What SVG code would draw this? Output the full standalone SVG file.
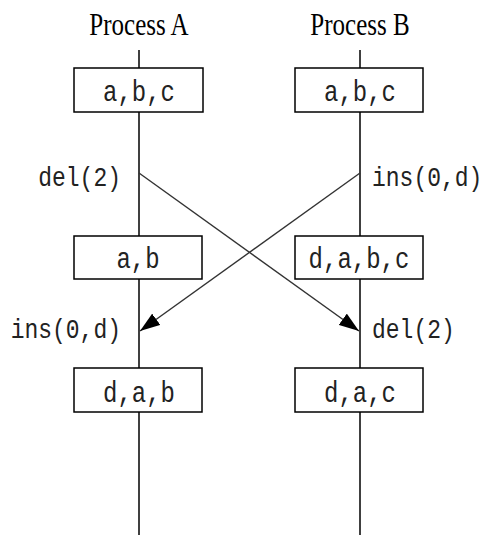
<svg xmlns="http://www.w3.org/2000/svg" width="486" height="535" viewBox="0 0 486 535">
<style>
.life{stroke:#000;stroke-width:1.5;fill:none}
.box{fill:#fff;stroke:#000;stroke-width:1.5}
.title{font-family:"Liberation Serif",serif;font-size:25px;fill:#000}
.mono{font-family:"Liberation Mono",monospace;font-size:24px;fill:#222}
.lbl{font-family:"Liberation Mono",monospace;font-size:23px;fill:#222}
.conn{stroke:#333;stroke-width:1.4;fill:none}
</style>
<defs>
<marker id="ah" viewBox="0 0 20 14" refX="20" refY="7" markerWidth="20" markerHeight="14" markerUnits="userSpaceOnUse" orient="auto">
<path d="M0,0 L20,7 L0,14 Z" fill="#000"/>
</marker>
</defs>
<g id="processA">
<line class="life" x1="139" y1="50" x2="139" y2="535"/>
<text class="title" transform="translate(139,35) scale(1,1.3)" text-anchor="middle">Process A</text>
</g>
<g id="processB">
<line class="life" x1="360" y1="50" x2="360" y2="535"/>
<text class="title" transform="translate(360,35) scale(1,1.3)" text-anchor="middle">Process B</text>
</g>
<g id="a1"><rect class="box" x="74" y="68" width="129" height="44"/><text class="mono" transform="translate(139,101) scale(1,1.2)" text-anchor="middle">a,b,c</text></g>
<g id="b1"><rect class="box" x="295" y="68" width="128" height="44"/><text class="mono" transform="translate(360,101) scale(1,1.2)" text-anchor="middle">a,b,c</text></g>
<g id="a2"><rect class="box" x="74" y="236" width="128" height="43"/><text class="mono" transform="translate(138,268) scale(1,1.2)" text-anchor="middle">a,b</text></g>
<g id="b2"><rect class="box" x="295" y="236" width="128" height="43"/><text class="mono" transform="translate(359,268) scale(1,1.2)" text-anchor="middle">d,a,b,c</text></g>
<g id="a3"><rect class="box" x="74" y="368" width="128" height="44"/><text class="mono" transform="translate(139,402) scale(1,1.2)" text-anchor="middle">d,a,b</text></g>
<g id="b3"><rect class="box" x="295" y="368" width="128" height="44"/><text class="mono" transform="translate(360,402) scale(1,1.2)" text-anchor="middle">d,a,c</text></g>
<g id="labels">
<text class="lbl" transform="translate(121,186) scale(1,1.2)" text-anchor="end">del(2)</text>
<text class="lbl" transform="translate(372,186) scale(1,1.2)">ins(0,d)</text>
<text class="lbl" transform="translate(121,338) scale(1,1.2)" text-anchor="end">ins(0,d)</text>
<text class="lbl" transform="translate(372,338) scale(1,1.2)">del(2)</text>
</g>
<g id="connectors">
<line class="conn" x1="139" y1="173" x2="359" y2="331" marker-end="url(#ah)"/>
<line class="conn" x1="360" y1="173" x2="140" y2="331" marker-end="url(#ah)"/>
</g>
</svg>
